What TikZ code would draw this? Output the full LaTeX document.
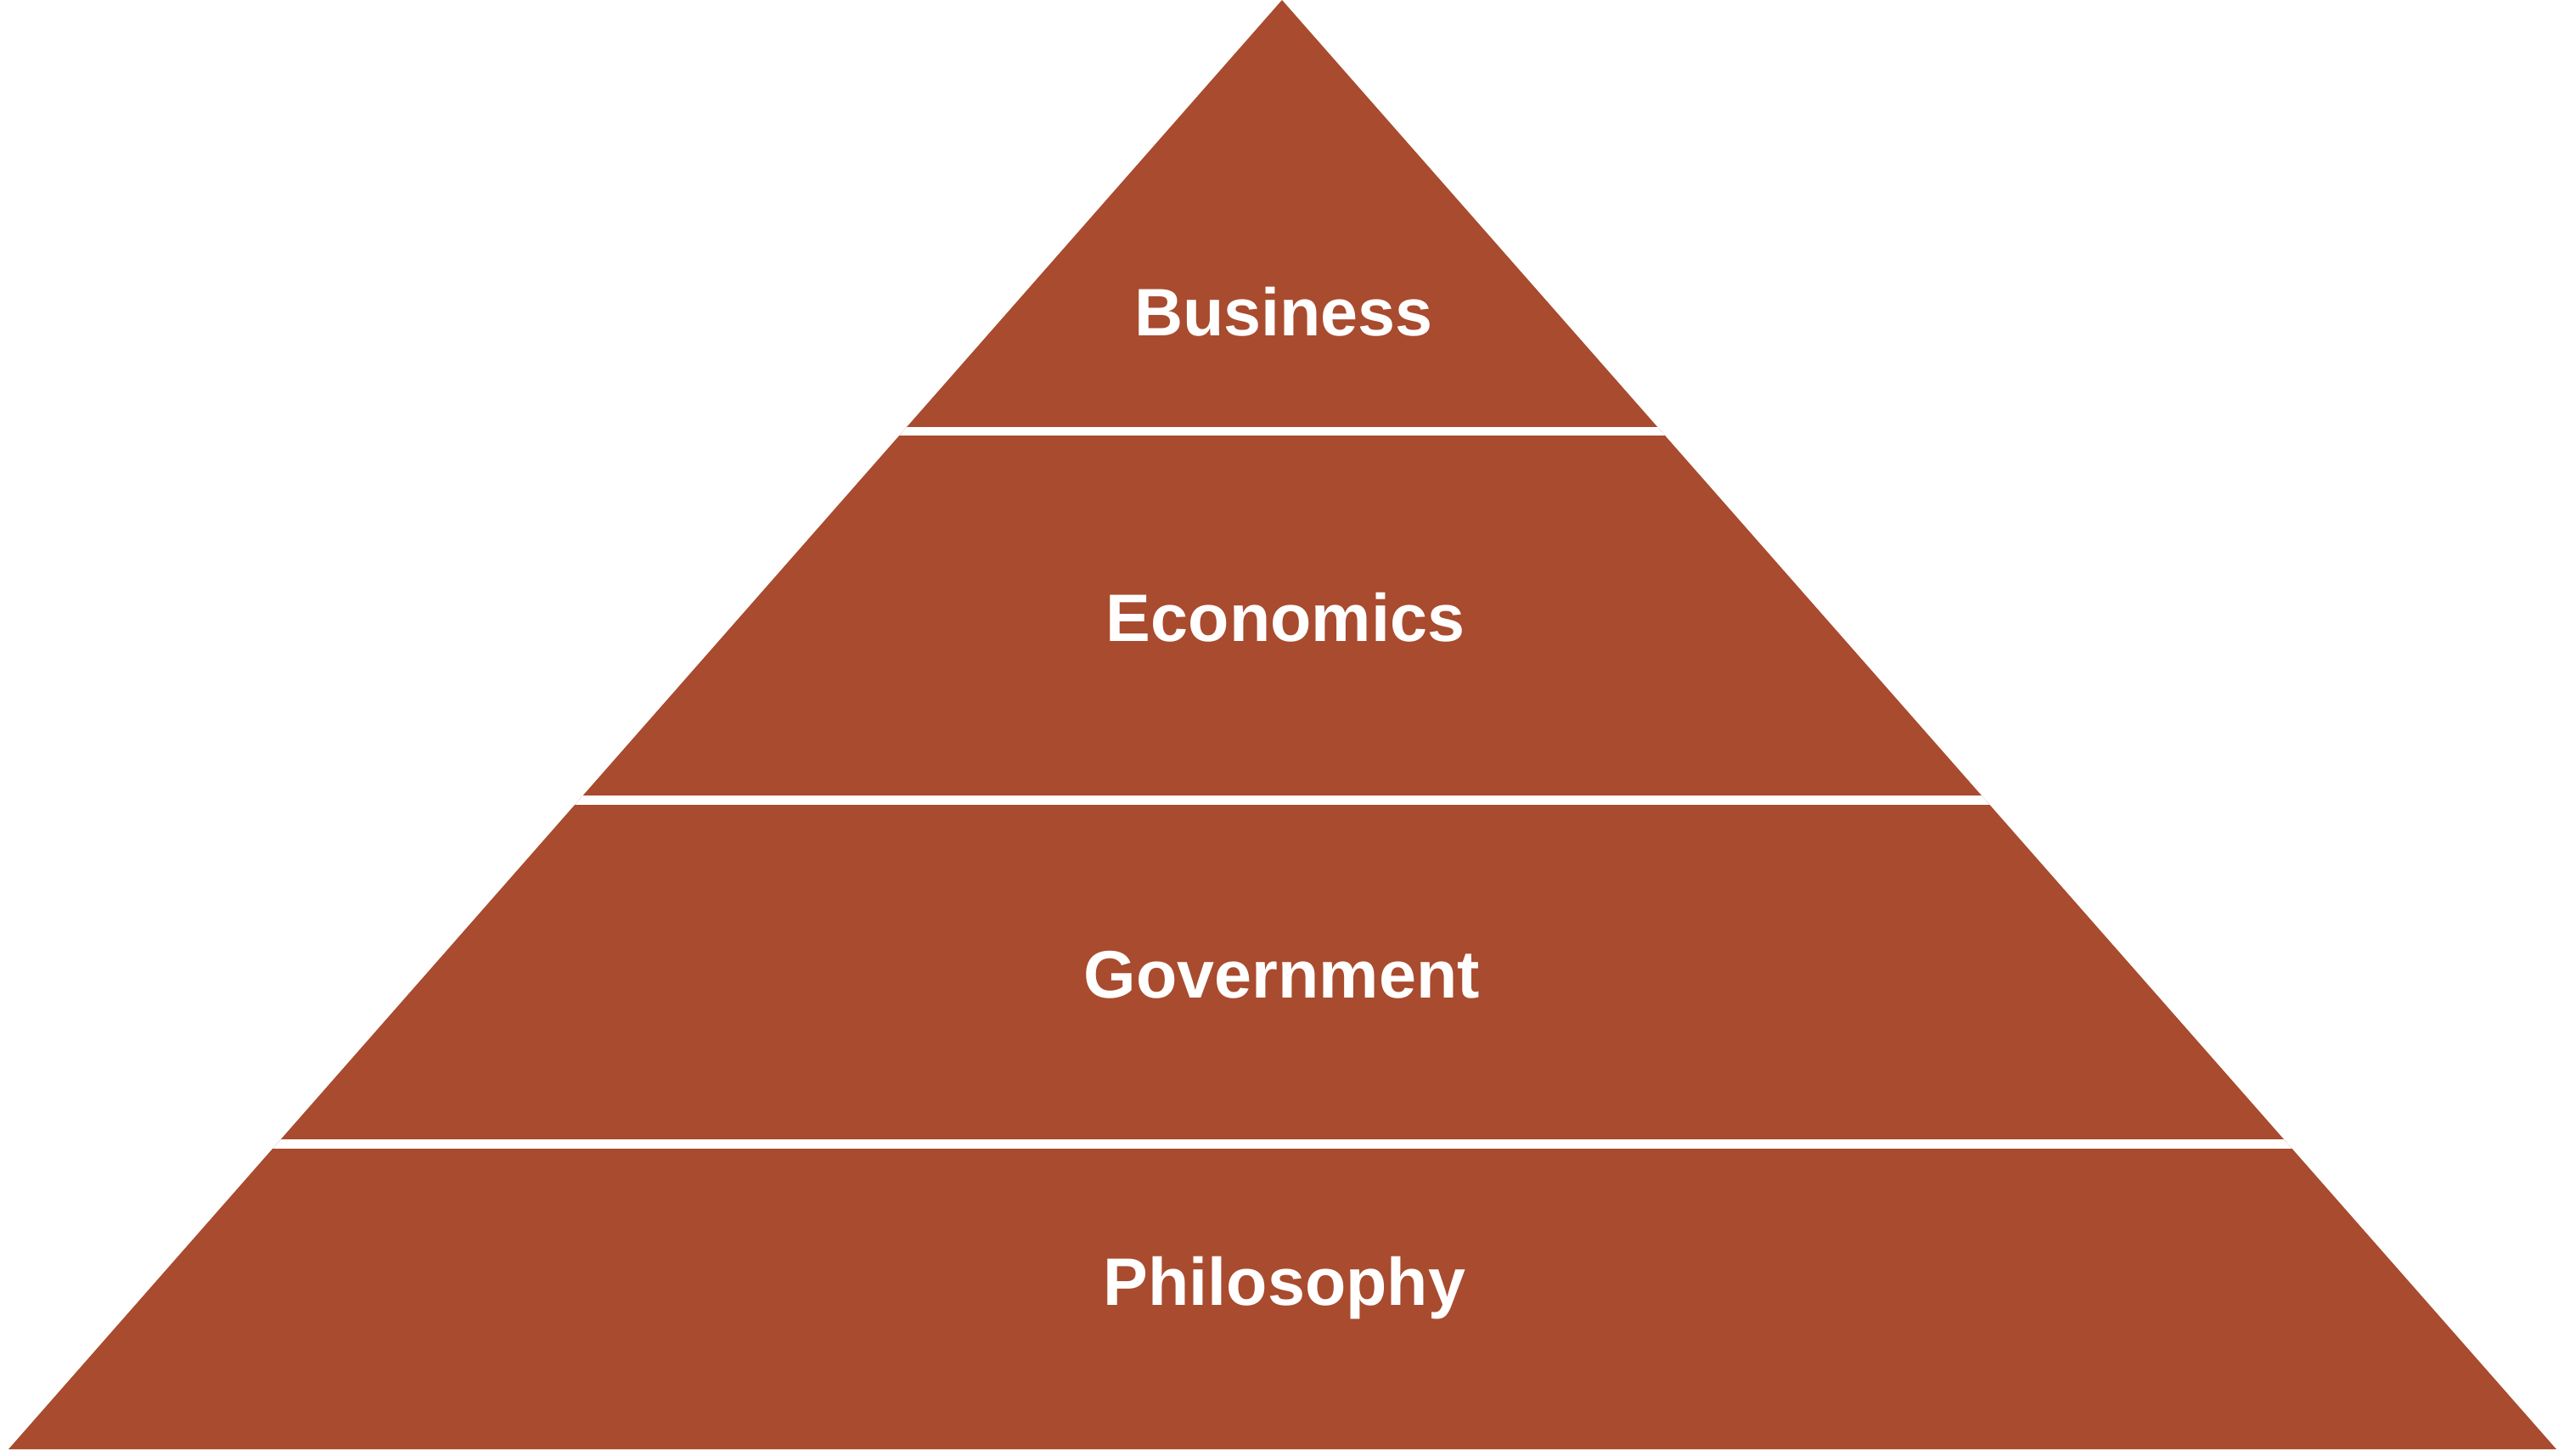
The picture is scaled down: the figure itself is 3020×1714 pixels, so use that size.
\documentclass[tikz,border=0pt]{standalone}
\usepackage{fontspec}
\setmainfont{Liberation Sans}
\definecolor{pyrbrown}{RGB}{169,75,46}
\begin{document}
\begin{tikzpicture}[x=0.01cm,y=-0.01cm,
  layerlabel/.style={anchor=base,text=white,font=\fontsize{22.5pt}{27pt}\selectfont\bfseries,inner sep=0pt},
  gapband/.style={fill=white,draw=none}]
\useasboundingbox (0,0) rectangle (3020,1714);
\coordinate (apex) at (1510,0);
\coordinate (bl) at (10,1707);
\coordinate (br) at (3011,1707);
\fill[pyrbrown] (apex) -- (bl) -- (br) -- cycle;
\begin{scope}
\clip (apex) -- (bl) -- (br) -- cycle;
\fill[gapband] (0,503) rectangle (3020,513);
\fill[gapband] (0,937) rectangle (3020,948);
\fill[gapband] (0,1342) rectangle (3020,1353);
\end{scope}
\node[layerlabel] (business) at (1512,395) {Business};
\node[layerlabel] (economics) at (1514,755) {Economics};
\node[layerlabel] (government) at (1510,1175) {Government};
\node[layerlabel] (philosophy) at (1513,1537) {Philosophy};
\end{tikzpicture}
\end{document}
